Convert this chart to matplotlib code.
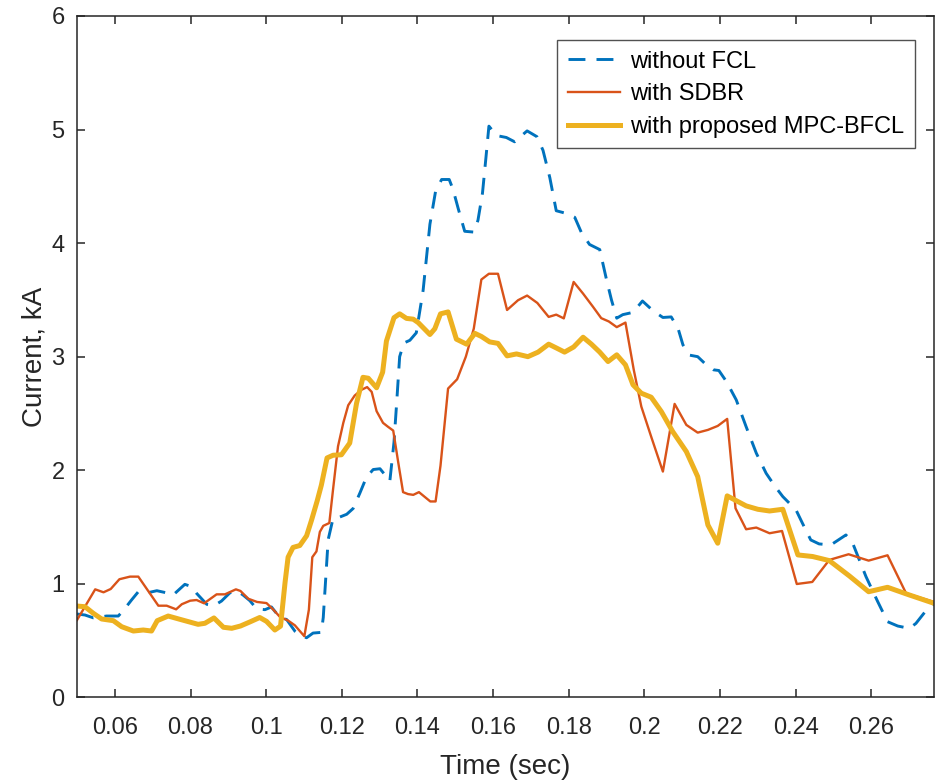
import numpy as np
import matplotlib
matplotlib.use('Agg')
from matplotlib import pyplot as plt

# without FCL (blue dashed)
t_nofcl = [0.0500, 0.0521, 0.0543, 0.0578, 0.0609, 0.0622, 0.0644, 0.0662, 0.0680, 0.0711,
           0.0737, 0.0754, 0.0785, 0.0803, 0.0816, 0.0843, 0.0862, 0.0882, 0.0904, 0.0922,
           0.0939, 0.0957, 0.0975, 0.0997, 0.1014, 0.1036, 0.1054, 0.1076, 0.1094, 0.1107,
           0.1124, 0.1146, 0.1151, 0.1164, 0.1177, 0.1195, 0.1213, 0.1230, 0.1248, 0.1265,
           0.1283, 0.1301, 0.1318, 0.1327, 0.1338, 0.1345, 0.1353, 0.1364, 0.1380, 0.1397,
           0.1415, 0.1433, 0.1448, 0.1464, 0.1484, 0.1494, 0.1508, 0.1525, 0.1549, 0.1560,
           0.1572, 0.1581, 0.1589, 0.1609, 0.1635, 0.1657, 0.1675, 0.1690, 0.1716, 0.1732,
           0.1750, 0.1767, 0.1794, 0.1816, 0.1833, 0.1855, 0.1882, 0.1900, 0.1913, 0.1927,
           0.1943, 0.1970, 0.1995, 0.2023, 0.2049, 0.2071, 0.2089, 0.2102, 0.2120, 0.2141,
           0.2159, 0.2183, 0.2197, 0.2217, 0.2243, 0.2269, 0.2296, 0.2322, 0.2345, 0.2366,
           0.2401, 0.2418, 0.2440, 0.2462, 0.2493, 0.2533, 0.2551, 0.2586, 0.2617, 0.2643,
           0.2670, 0.2701, 0.2718, 0.2746, 0.2766]
i_nofcl = [0.734, 0.725, 0.700, 0.716, 0.716, 0.763, 0.857, 0.930, 0.916, 0.939,
           0.920, 0.901, 0.995, 0.975, 0.916, 0.819, 0.807, 0.848, 0.920, 0.939,
           0.901, 0.851, 0.779, 0.772, 0.796, 0.703, 0.686, 0.583, 0.538, 0.525,
           0.566, 0.572, 0.703, 1.389, 1.577, 1.588, 1.612, 1.663, 1.800, 1.937,
           2.006, 2.013, 1.944, 1.903, 2.246, 2.589, 3.000, 3.120, 3.144, 3.210,
           3.583, 4.166, 4.457, 4.560, 4.560, 4.474, 4.302, 4.104, 4.097, 4.200,
           4.440, 4.748, 5.030, 4.947, 4.930, 4.892, 4.945, 4.988, 4.937, 4.817,
           4.577, 4.285, 4.261, 4.227, 4.097, 3.988, 3.943, 3.677, 3.500, 3.339,
           3.370, 3.390, 3.490, 3.404, 3.345, 3.350, 3.250, 3.104, 3.013, 3.000,
           2.943, 2.884, 2.878, 2.781, 2.619, 2.384, 2.150, 1.973, 1.860, 1.768,
           1.650, 1.533, 1.386, 1.351, 1.342, 1.430, 1.356, 1.063, 0.843, 0.666,
           0.628, 0.607, 0.651, 0.769, 0.822]

# with SDBR (orange)
t_sdbr = [0.0500, 0.0548, 0.0570, 0.0589, 0.0612, 0.0640, 0.0662, 0.0715, 0.0737, 0.0762,
          0.0777, 0.0799, 0.0816, 0.0836, 0.0869, 0.0891, 0.0920, 0.0932, 0.0953, 0.0976,
          0.1001, 0.1019, 0.1036, 0.1058, 0.1076, 0.1101, 0.1113, 0.1122, 0.1133, 0.1142,
          0.1151, 0.1167, 0.1177, 0.1190, 0.1204, 0.1217, 0.1234, 0.1252, 0.1267, 0.1279,
          0.1292, 0.1309, 0.1322, 0.1336, 0.1349, 0.1362, 0.1375, 0.1389, 0.1404, 0.1419,
          0.1434, 0.1448, 0.1461, 0.1481, 0.1505, 0.1528, 0.1549, 0.1569, 0.1589, 0.1613,
          0.1637, 0.1666, 0.1690, 0.1717, 0.1747, 0.1767, 0.1787, 0.1813, 0.1838, 0.1864,
          0.1886, 0.1906, 0.1927, 0.1950, 0.1972, 0.1992, 0.2018, 0.2049, 0.2080, 0.2111,
          0.2141, 0.2168, 0.2194, 0.2219, 0.2241, 0.2269, 0.2296, 0.2331, 0.2364, 0.2403,
          0.2444, 0.2489, 0.2540, 0.2593, 0.2643, 0.2692, 0.2766]
i_sdbr = [0.681, 0.951, 0.925, 0.954, 1.040, 1.063, 1.063, 0.807, 0.807, 0.775,
          0.820, 0.851, 0.857, 0.828, 0.907, 0.907, 0.951, 0.937, 0.868, 0.840,
          0.830, 0.772, 0.710, 0.676, 0.634, 0.538, 0.772, 1.234, 1.285, 1.457,
          1.510, 1.535, 1.834, 2.210, 2.417, 2.572, 2.657, 2.708, 2.732, 2.690,
          2.520, 2.417, 2.383, 2.349, 2.074, 1.807, 1.790, 1.783, 1.807, 1.766,
          1.725, 1.725, 2.040, 2.719, 2.801, 3.000, 3.247, 3.679, 3.730, 3.730,
          3.411, 3.497, 3.538, 3.473, 3.350, 3.370, 3.337, 3.658, 3.555, 3.440,
          3.339, 3.310, 3.260, 3.300, 2.884, 2.560, 2.296, 1.988, 2.584, 2.399,
          2.331, 2.355, 2.390, 2.452, 1.665, 1.480, 1.495, 1.445, 1.465, 0.998,
          1.016, 1.210, 1.260, 1.204, 1.251, 0.916, 0.840]

# with proposed MPC-BFCL (yellow)
t_mpc = [0.0500, 0.0521, 0.0543, 0.0565, 0.0596, 0.0618, 0.0649, 0.0675, 0.0697, 0.0712,
         0.0741, 0.0772, 0.0820, 0.0838, 0.0862, 0.0887, 0.0909, 0.0932, 0.0957, 0.0983,
         0.1001, 0.1023, 0.1038, 0.1050, 0.1058, 0.1071, 0.1089, 0.1107, 0.1120, 0.1135,
         0.1146, 0.1161, 0.1177, 0.1199, 0.1221, 0.1239, 0.1256, 0.1270, 0.1292, 0.1308,
         0.1318, 0.1338, 0.1353, 0.1371, 0.1389, 0.1402, 0.1433, 0.1446, 0.1461, 0.1481,
         0.1503, 0.1530, 0.1552, 0.1569, 0.1591, 0.1613, 0.1637, 0.1662, 0.1692, 0.1719,
         0.1747, 0.1767, 0.1789, 0.1813, 0.1838, 0.1860, 0.1882, 0.1904, 0.1927, 0.1950,
         0.1970, 0.1992, 0.2018, 0.2045, 0.2075, 0.2111, 0.2141, 0.2168, 0.2194, 0.2219,
         0.2269, 0.2300, 0.2331, 0.2366, 0.2406, 0.2445, 0.2489, 0.2542, 0.2593, 0.2643,
         0.2701, 0.2766]
i_mpc = [0.804, 0.798, 0.740, 0.690, 0.675, 0.622, 0.584, 0.593, 0.584, 0.675,
         0.716, 0.687, 0.643, 0.652, 0.699, 0.617, 0.608, 0.628, 0.664, 0.703,
         0.669, 0.593, 0.627, 1.012, 1.234, 1.320, 1.337, 1.423, 1.560, 1.731,
         1.869, 2.108, 2.132, 2.136, 2.239, 2.589, 2.818, 2.810, 2.726, 2.863,
         3.137, 3.343, 3.377, 3.337, 3.330, 3.300, 3.195, 3.246, 3.377, 3.394,
         3.154, 3.110, 3.205, 3.178, 3.130, 3.117, 3.007, 3.024, 3.000, 3.040,
         3.110, 3.077, 3.040, 3.085, 3.171, 3.110, 3.040, 2.957, 3.016, 2.928,
         2.752, 2.678, 2.643, 2.516, 2.340, 2.164, 1.944, 1.518, 1.357, 1.774,
         1.686, 1.656, 1.641, 1.656, 1.254, 1.240, 1.204, 1.069, 0.930, 0.969,
         0.901, 0.828]

xticks = [0.06, 0.08, 0.1, 0.12, 0.14, 0.16, 0.18, 0.2, 0.22, 0.24, 0.26]
xtick_labels = ['0.06', '0.08', '0.1', '0.12', '0.14', '0.16', '0.18', '0.2', '0.22', '0.24', '0.26']
yticks = [0, 1, 2, 3, 4, 5, 6]

plt.rcParams['font.family'] = ['Liberation Sans', 'DejaVu Sans']

fig = plt.figure(figsize=(9.35, 7.83), dpi=100)
ax = fig.add_axes([0.0824, 0.1094, 0.9166, 0.8702])

axcol = '#262626'
blue, = ax.plot(t_nofcl, i_nofcl, color='#0072BD', lw=2.1, linestyle='--', label='without FCL')
blue.set_dashes((5.8, 3.8))
ax.plot(t_sdbr, i_sdbr, color='#D95319', lw=1.7, label='with SDBR')
ax.plot(t_mpc, i_mpc, color='#EDB120', lw=3.6, label='with proposed MPC-BFCL')

ax.set_xlim(0.05, 0.2766)
ax.set_ylim(0, 6)
ax.set_xticks(xticks)
ax.set_xticklabels(xtick_labels)
ax.set_yticks(yticks)
ax.tick_params(direction='in', length=6, width=1.1, colors=axcol, labelsize=17,
               top=True, right=True)
ax.tick_params(axis='x', pad=14)
ax.tick_params(axis='y', pad=9)
for s in ax.spines.values():
    s.set_color(axcol)
    s.set_linewidth(1.1)

ax.set_xlabel('Time (sec)', fontsize=20, color=axcol, labelpad=11)
ax.set_ylabel('Current, kA', fontsize=20, color=axcol, labelpad=3)

leg = ax.legend(loc='upper right', bbox_to_anchor=(0.9778, 0.9648), borderaxespad=0,
                fontsize=17, frameon=True, fancybox=False, handlelength=2.2,
                handletextpad=0.45, borderpad=0.45, labelspacing=0.45)
leg.get_frame().set_edgecolor(axcol)
leg.get_frame().set_linewidth(1.0)

plt.savefig('out.png', dpi=100)
